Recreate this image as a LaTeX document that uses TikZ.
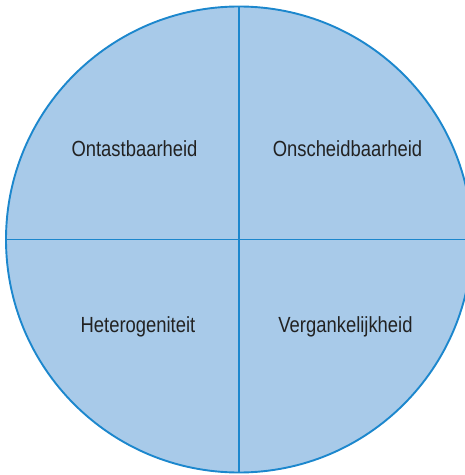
\documentclass[tikz,border=0pt]{standalone}
\usepackage{fontspec}
\setmainfont{Liberation Sans}[FakeStretch=0.84]
\definecolor{fillblue}{HTML}{A8CAE9}
\definecolor{lineblue}{HTML}{1C87CD}
\definecolor{txt}{HTML}{222222}
\begin{document}
\begin{tikzpicture}[x=1bp,y=-1bp,
  label/.style={text=txt,font=\fontsize{22}{24}\selectfont,inner sep=0pt,anchor=base},
  outline/.style={draw=lineblue,line width=1.9bp}]
\useasboundingbox (0,0) rectangle (465,475);
\clip (0,0) rectangle (465,475);
\coordinate (c) at (239,239.5);
\fill[fillblue] (c) circle[radius=233];
\draw[outline] (c) circle[radius=233];
\coordinate (t) at (239,6.5);
\coordinate (b) at (239,472.5);
\coordinate (l) at (6,239.5);
\coordinate (r) at (472,239.5);
\draw[outline] (t) -- (b);
\draw[outline] (l) -- (r);
\node[label] (q1) at (134.5,156.5) {Ontastbaarheid};
\node[label] (q2) at (347.5,156.5) {Onscheidbaarheid};
\node[label] (q3) at (138,332.5) {Heterogeniteit};
\node[label] (q4) at (345.5,332.5) {Vergankelijkheid};
\end{tikzpicture}
\end{document}
